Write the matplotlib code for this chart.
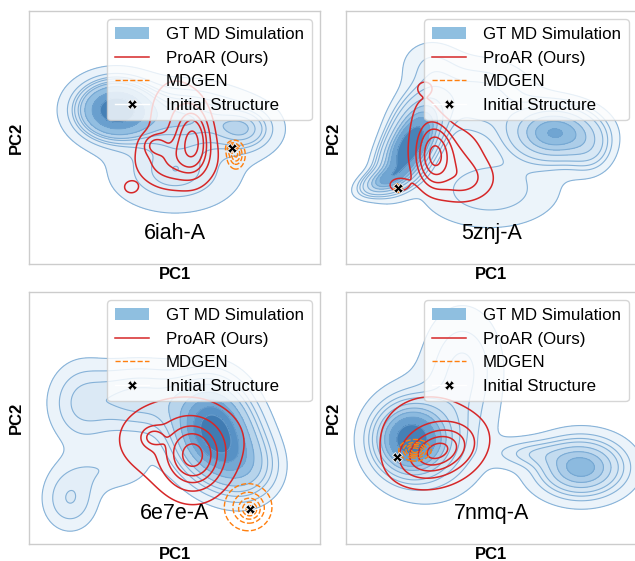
import numpy as np
import matplotlib
matplotlib.use("Agg")
import matplotlib.pyplot as plt
from matplotlib.colors import LinearSegmentedColormap
from matplotlib.patches import Patch
from matplotlib.lines import Line2D

plt.rcParams['font.family'] = ['Liberation Sans', 'DejaVu Sans']

# ---------------- data (PC-space mixture components: cx, cy, sx, sy, rho, weight) -------------
PANEL_NAMES = ['6iah-A', '5znj-A', '6e7e-A', '7nmq-A']

GT_6IAH = [[29.6, 60.9, 8.0, 7.0, 0.0, 1.0],
           [53.6, 57.7, 13.0, 8.0, 0.0, 0.6],
           [50.2, 36.0, 13.0, 9.0, 0.0, 0.45],
           [74.2, 53.0, 7.0, 6.0, 0.0, 0.2]]
PROAR_6IAH = [[43.3, 47.0, 2.5, 2.5, 0.0, 0.06],
              [56.4, 49.0, 3.4, 7.5, 0.0, 0.6],
              [50.2, 41.1, 7.5, 6.5, 0.0, 0.6],
              [35.1, 30.4, 1.5, 1.5, 0.0, 0.015],
              [50.2, 58.9, 6.0, 10.0, 0.0, 0.35]]
MDGEN_6IAH = [[71.1, 43.1, 1.6, 2.8, 0.0, 1.0],
              [69.8, 45.8, 1.0, 1.2, 0.0, 0.3]]
INIT_6IAH = [69.8, 45.8]

GT_5ZNJ = [[21.3, 45.1, 5.5, 8.0, 0.5, 1.0],
           [25.4, 56.9, 6.0, 8.0, 0.3, 0.4],
           [71.8, 51.8, 9.0, 6.5, 0.0, 1.0],
           [46.0, 64.8, 12.0, 10.0, 0.0, 0.5],
           [13.4, 33.2, 5.0, 3.5, 0.5, 0.2],
           [49.5, 29.2, 16.0, 10.0, 0.0, 0.5],
           [28.9, 78.7, 7.0, 7.0, 0.0, 0.1],
           [83.8, 45.0, 5.0, 6.0, 0.0, 0.1]]
PROAR_5ZNJ = [[30.6, 43.0, 3.0, 6.0, 0.0, 0.6],
              [35.0, 41.1, 7.0, 8.0, 0.0, 0.5],
              [17.9, 31.2, 3.0, 2.5, 0.0, 0.025],
              [27.1, 69.6, 1.5, 1.5, 0.0, 0.01],
              [40.9, 33.2, 6.0, 5.0, 0.0, 0.2],
              [27.1, 55.0, 4.0, 10.0, 0.0, 0.15]]
MDGEN_5ZNJ = [[17.9, 30.0, 0.7, 0.8, 0.0, 1.0]]
INIT_5ZNJ = [17.9, 30.0]

GT_6E7E = [[62.2, 47.4, 8.0, 11.0, 0.0, 1.0],
           [68.0, 37.5, 8.0, 10.0, 0.0, 0.5],
           [38.1, 57.3, 13.0, 9.0, 0.0, 0.45],
           [17.5, 55.3, 7.0, 11.0, 0.0, 0.15],
           [14.1, 17.8, 6.0, 8.0, 0.0, 0.12],
           [27.8, 29.6, 10.0, 6.0, 0.0, 0.08],
           [75.0, 29.6, 7.0, 8.0, 0.0, 0.2]]
PROAR_6E7E = [[56.4, 34.4, 6.0, 8.0, 0.0, 1.0],
              [42.6, 42.3, 2.5, 2.5, 0.0, 0.06],
              [51.9, 41.5, 13.0, 10.0, 0.0, 0.7]]
MDGEN_6E7E = [[75.9, 13.8, 1.8, 2.0, 0.0, 0.5],
              [75.3, 14.6, 4.2, 4.8, 0.0, 1.0]]
INIT_6E7E = [75.9, 13.8]

GT_7NMQ = [[22.0, 41.5, 7.0, 8.0, 0.0, 1.0],
           [28.9, 41.5, 11.0, 13.0, 0.0, 0.6],
           [40.0, 70.0, 8.0, 14.0, 0.0, 0.35],
           [80.8, 30.4, 9.0, 7.0, 0.0, 0.7],
           [63.0, 36.0, 8.0, 3.5, 0.0, 0.08]]
PROAR_7NMQ = [[31.5, 36.8, 6.5, 5.5, 0.3, 1.0],
              [28.9, 41.5, 11.0, 11.0, 0.0, 0.6]]
MDGEN_7NMQ = [[23.7, 37.2, 2.6, 2.0, 0.0, 1.0]]
INIT_7NMQ = [17.5, 34.4]

GT_ALL = [GT_6IAH, GT_5ZNJ, GT_6E7E, GT_7NMQ]
PROAR_ALL = [PROAR_6IAH, PROAR_5ZNJ, PROAR_6E7E, PROAR_7NMQ]
MDGEN_ALL = [MDGEN_6IAH, MDGEN_5ZNJ, MDGEN_6E7E, MDGEN_7NMQ]
INIT_ALL = [INIT_6IAH, INIT_5ZNJ, INIT_6E7E, INIT_7NMQ]

LEGEND_LABELS = ['GT MD Simulation', 'ProAR (Ours)', 'MDGEN', 'Initial Structure']

# ---------------- helpers -------------
def mixture(X, Y, comps):
    Z = np.zeros_like(X)
    for cx, cy, sx, sy, rho, w in comps:
        dx = (X - cx) / sx
        dy = (Y - cy) / sy
        q = (dx * dx - 2 * rho * dx * dy + dy * dy) / (1 - rho ** 2)
        Z += w * np.exp(-0.5 * q) / (2 * np.pi * sx * sy * np.sqrt(1 - rho ** 2))
    return Z


def iso_levels(Z, props):
    z = np.sort(Z.ravel())
    c = np.cumsum(z)
    c /= c[-1]
    out = []
    for p in props:
        if p >= 1.0:
            out.append(z[-1] * 1.001)
        else:
            out.append(z[np.searchsorted(c, p)])
    return out


gx = np.linspace(-15, 115, 420)
gy = np.linspace(-15, 115, 420)
X, Y = np.meshgrid(gx, gy)

cmap = LinearSegmentedColormap.from_list('gt', ['#eef5fb', '#cfe2f2', '#8dbbe0', '#5b95c8', '#3470a8'])

fig = plt.figure(figsize=(6.35, 5.61), dpi=100)
W, H = 635, 561
boxes = [(29, 11, 320, 264), (346, 11, 637, 264), (29, 292, 320, 544), (346, 292, 637, 544)]

for i, (l, t, r, b) in enumerate(boxes):
    ax = fig.add_axes([l / W, 1 - b / H, (r - l) / W, (b - t) / H])
    Zg = mixture(X, Y, GT_ALL[i])
    lv = iso_levels(Zg, np.linspace(0.05, 1.0, 10))
    ax.contourf(X, Y, Zg, levels=lv, cmap=cmap, zorder=1)
    ax.contour(X, Y, Zg, levels=lv[:-1], colors='#6fa3d0', linewidths=0.8, alpha=0.8, zorder=2)

    Zr = mixture(X, Y, PROAR_ALL[i])
    lr = iso_levels(Zr, [0.1, 0.3, 0.5, 0.7, 0.9])
    ax.contour(X, Y, Zr, levels=lr, colors='#d62728', linewidths=1.1, zorder=3)

    Zm = mixture(X, Y, MDGEN_ALL[i])
    lm = iso_levels(Zm, [0.1, 0.3, 0.5, 0.7, 0.9])
    ax.contour(X, Y, Zm, levels=lm, colors='#ff7f0e', linewidths=1.0,
               linestyles='--', zorder=4)

    ax.plot(INIT_ALL[i][0], INIT_ALL[i][1], marker='X', color='black', markersize=7,
            markeredgecolor='white', markeredgewidth=0.6, linestyle='none', zorder=6)

    ax.set_xlim(0, 100)
    ax.set_ylim(0, 100)
    ax.set_xticks([])
    ax.set_yticks([])
    for s in ax.spines.values():
        s.set_color('#cccccc')
        s.set_linewidth(1.0)
    ax.set_xlabel('PC1', fontsize=12, fontweight='bold', labelpad=2)
    ax.set_ylabel('PC2', fontsize=12, fontweight='bold', labelpad=4)
    ax.text(0.5, 0.12, PANEL_NAMES[i], transform=ax.transAxes, ha='center', va='center',
            fontsize=15.5, zorder=7)

    handles = [Patch(facecolor='#8fbfe0', edgecolor='none'),
               Line2D([], [], color='#d62728', lw=1.1),
               Line2D([], [], color='#ff7f0e', lw=1.0, ls='--'),
               Line2D([], [], color='white', lw=1.0, marker='X', markersize=7,
                      markerfacecolor='black', markeredgecolor='white', markeredgewidth=0.6)]
    leg = ax.legend(handles, LEGEND_LABELS, loc='upper right', fontsize=12.2,
                    labelspacing=0.5, handletextpad=1.0, borderpad=0.45,
                    frameon=True, framealpha=0.8, edgecolor='#cccccc', fancybox=True)
    leg.set_zorder(10)

fig.savefig('out.png', dpi=100)
